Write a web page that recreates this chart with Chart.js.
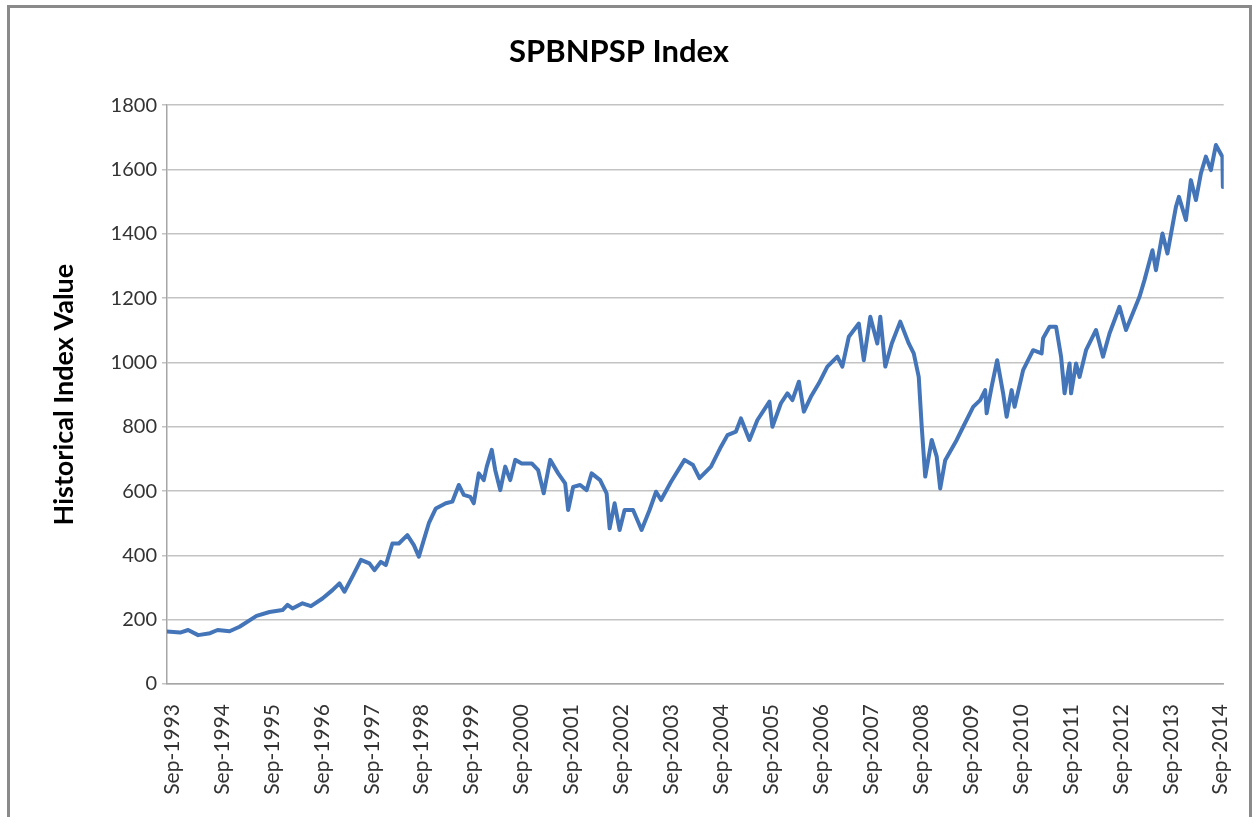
<!DOCTYPE html>
<html>
<head>
<meta charset="utf-8">
<script src="https://cdn.jsdelivr.net/npm/chart.js@4.4.1/dist/chart.umd.min.js"></script>
<style>
  html, body { margin: 0; padding: 0; background: #ffffff; }
  #wrap { position: absolute; left: 0; top: 0; width: 1258px; height: 817px; }
</style>
</head>
<body>
<div id="wrap"><canvas id="c" width="1258" height="817"></canvas></div>
<script>
// Dates as decimal years
const dates = [
  1993.56, 1993.83, 1993.99, 1994.19, 1994.43, 1994.58, 1994.82, 1995.02, 1995.36, 1995.62,
  1995.88, 1995.98, 1996.08, 1996.28, 1996.45, 1996.68, 1996.88, 1997.02, 1997.12, 1997.28,
  1997.45, 1997.62, 1997.72, 1997.85, 1997.95, 1998.08, 1998.21, 1998.38, 1998.51, 1998.61,
  1998.71, 1998.81, 1998.95, 1999.15, 1999.28, 1999.41, 1999.51, 1999.64, 1999.71, 1999.81,
  1999.91, 1999.97, 2000.07, 2000.14, 2000.24, 2000.34, 2000.44, 2000.54, 2000.67, 2000.81,
  2000.87, 2001.00, 2001.11, 2001.24, 2001.40, 2001.54, 2001.60, 2001.70, 2001.84, 2001.97,
  2002.07, 2002.24, 2002.37, 2002.43, 2002.53, 2002.63, 2002.73, 2002.90, 2003.07, 2003.23,
  2003.36, 2003.46, 2003.66, 2003.93, 2004.10, 2004.23, 2004.46, 2004.66, 2004.79, 2004.96,
  2005.06, 2005.23, 2005.39, 2005.63, 2005.69, 2005.86, 2005.99, 2006.09, 2006.22, 2006.32,
  2006.46, 2006.62, 2006.79, 2006.99, 2007.09, 2007.22, 2007.42, 2007.52, 2007.65, 2007.79,
  2007.85, 2007.95, 2008.08, 2008.25, 2008.42, 2008.52, 2008.62, 2008.68, 2008.75, 2008.88,
  2008.98, 2009.05, 2009.15, 2009.38, 2009.51, 2009.71, 2009.85, 2009.95, 2009.98, 2010.08,
  2010.19, 2010.31, 2010.38, 2010.48, 2010.54, 2010.71, 2010.91, 2011.08, 2011.11, 2011.24,
  2011.37, 2011.47, 2011.54, 2011.64, 2011.67, 2011.77, 2011.84, 2011.97, 2012.17, 2012.31,
  2012.44, 2012.64, 2012.77, 2013.04, 2013.14, 2013.30, 2013.37, 2013.50, 2013.60, 2013.77,
  2013.83, 2013.97, 2014.07, 2014.17, 2014.27, 2014.37, 2014.47, 2014.57, 2014.70, 2014.71
];
const values = [
  163, 160, 168, 152, 158, 168, 164, 178, 212, 224,
  230, 246, 235, 251, 242, 266, 292, 313, 287, 334,
  386, 375, 354, 380, 370, 437, 437, 463, 432, 396,
  448, 500, 546, 562, 567, 619, 588, 582, 562, 655,
  634, 676, 728, 665, 603, 676, 634, 697, 686, 686,
  686, 665, 593, 697, 655, 624, 541, 613, 619, 603,
  655, 634, 593, 484, 562, 479, 541, 541, 479, 541,
  598, 572, 629, 697, 681, 640, 676, 738, 774, 785,
  826, 759, 821, 878, 800, 873, 904, 883, 940, 847,
  893, 935, 987, 1018, 987, 1080, 1121, 1007, 1142, 1059,
  1142, 987, 1059, 1127, 1059, 1028, 955, 800, 645, 759,
  707, 608, 696, 759, 800, 862, 883, 914, 842, 925,
  1007, 904, 831, 914, 862, 976, 1038, 1028, 1075, 1111,
  1111, 1018, 904, 997, 904, 997, 955, 1038, 1101, 1018,
  1090, 1173, 1101, 1204, 1256, 1349, 1287, 1401, 1339, 1484,
  1515, 1443, 1567, 1505, 1588, 1640, 1598, 1676, 1640, 1546
];
const tickYears = [1993, 1994, 1995, 1996, 1997, 1998, 1999, 2000, 2001, 2002, 2003,
                   2004, 2005, 2006, 2007, 2008, 2009, 2010, 2011, 2012, 2013, 2014];
const tickLabels = tickYears.map(y => 'Sep-' + y);
const yTicks = [0, 200, 400, 600, 800, 1000, 1200, 1400, 1600, 1800];

const points = dates.map((d, i) => ({ x: d, y: values[i] }));
const SEP = 8 / 12; // September offset within a year

const frame = {
  id: 'frame',
  beforeDraw(chart) {
    const ctx = chart.ctx;
    ctx.save();
    ctx.fillStyle = '#ffffff';
    ctx.fillRect(0, 0, chart.width, chart.height);
    ctx.strokeStyle = '#8a8a8a';
    ctx.lineWidth = 3;
    ctx.strokeRect(8.5, 6.5, 1242, 840);
    ctx.restore();
  }
};

new Chart(document.getElementById('c'), {
  type: 'line',
  data: {
    datasets: [{
      data: points,
      borderColor: '#4475b8',
      borderWidth: 4,
      borderJoinStyle: 'round',
      borderCapStyle: 'round',
      pointRadius: 0,
      tension: 0,
      fill: false
    }]
  },
  options: {
    responsive: false,
    animation: false,
    layout: { padding: { left: 10, right: 30, top: 0, bottom: 0 } },
    plugins: {
      legend: { display: false },
      tooltip: { enabled: false },
      title: {
        display: true,
        text: 'SPBNPSP Index',
        color: '#000000',
        font: { family: 'Lato', size: 31, weight: 'bold', lineHeight: 1.2 },
        padding: { top: 33, bottom: 35 }
      }
    },
    scales: {
      x: {
        type: 'linear',
        min: 1993.567,
        max: 2014.727,
        afterBuildTicks(scale) {
          scale.ticks = tickYears.map(y => ({ value: y + SEP }));
        },
        afterFit(scale) { scale.height = 133; },
        grid: { display: false },
        border: { display: true, color: '#a6a6a6', width: 1.5 },
        ticks: {
          autoSkip: false,
          minRotation: 90,
          maxRotation: 90,
          padding: 12,
          color: '#333333',
          font: { family: 'Lato', size: 21 },
          callback(value, index) { return tickLabels[index]; }
        }
      },
      y: {
        min: 0,
        max: 1800,
        afterBuildTicks(scale) {
          scale.ticks = yTicks.map(v => ({ value: v }));
        },
        afterFit(scale) { scale.width = 157; },
        grid: { color: '#c3c3c3', lineWidth: 1.5, tickLength: 5, drawTicks: true },
        border: { display: true, color: '#a6a6a6', width: 1.5 },
        title: {
          display: true,
          text: 'Historical Index Value',
          color: '#000000',
          font: { family: 'Lato', size: 27, weight: 'bold', lineHeight: 1.2 },
          padding: { top: 38, bottom: 0 }
        },
        ticks: {
          padding: 5,
          color: '#333333',
          font: { family: 'Lato', size: 20 },
          callback(value) { return String(value); }
        }
      }
    }
  },
  plugins: [frame]
});
</script>
</body>
</html>
